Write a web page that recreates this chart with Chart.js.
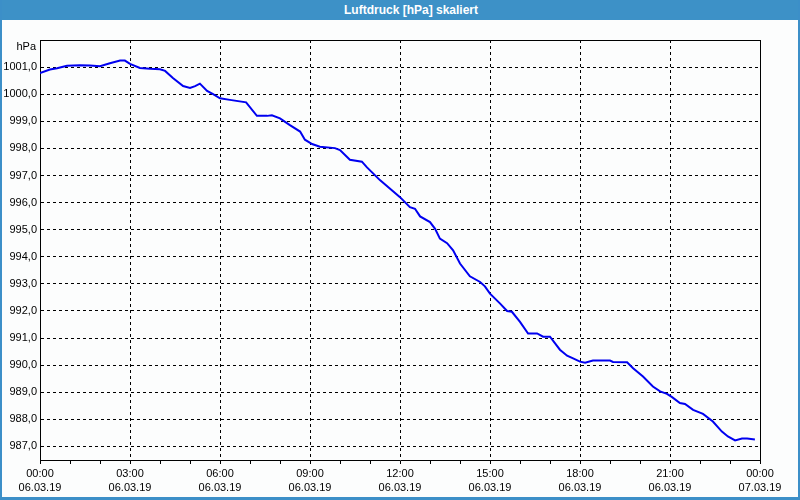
<!DOCTYPE html>
<html>
<head>
<meta charset="utf-8">
<script src="https://cdn.jsdelivr.net/npm/chart.js@4/dist/chart.umd.min.js"></script>
<style>
	html, body { margin: 0; padding: 0; background: #fcfdfd; }
	#frame { position: absolute; left: 0; top: 0; width: 796px; height: 497px; border-left: 2px solid #3c8fc8; border-right: 2px solid #3c8fc8; border-bottom: 3px solid #3c8fc8; pointer-events: none; }
	#titleBar { position: absolute; left: 0; top: 0; width: 800px; height: 20px; background: #3d91c7; color: #ffffff; font: bold 12px "Liberation Sans", sans-serif; line-height: 20px; text-align: center; }
	#titleBar span { margin-left: 22px; }
	#chartBox { position: absolute; left: 0; top: 0; width: 800px; height: 500px; }
</style>
</head>
<body>
<div id="chartBox"><canvas id="pressureChart"></canvas></div>
<div id="titleBar"><span>Luftdruck [hPa] skaliert</span></div>
<div id="frame"></div>
<script>
/* Time axis (hours since 06.03.19 00:00) */
var hourArray = [0, 0.33, 0.57, 0.9, 1.33, 1.67, 2.0, 2.33, 2.67, 2.83, 3.0, 3.33, 3.67, 4.0, 4.17, 4.43, 4.77, 5.0, 5.17, 5.33,
	5.57, 5.77, 6.0, 6.33, 6.87, 7.23, 7.57, 7.73, 8.0, 8.33, 8.67, 8.83, 9.07, 9.33, 9.83, 10.0, 10.33, 10.73, 10.9, 11.33,
	12.0, 12.33, 12.5, 12.67, 13.0, 13.17, 13.33, 13.57, 13.77, 14.0, 14.33, 14.67, 14.83, 15.0, 15.33, 15.57, 15.73, 16.0, 16.27, 16.57,
	16.77, 17.0, 17.33, 17.57, 17.77, 18.0, 18.17, 18.43, 19.0, 19.1, 19.57, 19.77, 20.1, 20.43, 20.67, 20.9, 21.07, 21.33, 21.5, 21.77,
	22.1, 22.43, 22.73, 22.93, 23.17, 23.4, 23.57, 23.83];

/* Pressure values in hPa */
var pressureArray = [1000.78, 1000.91, 1000.96, 1001.05, 1001.07, 1001.06, 1001.03, 1001.14, 1001.24, 1001.24, 1001.12, 1000.97, 1000.94, 1000.92, 1000.86, 1000.6, 1000.3, 1000.23, 1000.3, 1000.39,
	1000.12, 1000.0, 999.85, 999.79, 999.7, 999.2, 999.2, 999.22, 999.11, 998.86, 998.62, 998.32, 998.16, 998.06, 998.01, 997.94, 997.58, 997.51, 997.3, 996.83,
	996.2, 995.83, 995.77, 995.49, 995.28, 995.03, 994.67, 994.5, 994.24, 993.75, 993.28, 993.07, 992.91, 992.64, 992.28, 992.0, 991.97, 991.6, 991.17, 991.17,
	991.05, 991.05, 990.57, 990.35, 990.25, 990.13, 990.09, 990.17, 990.17, 990.12, 990.11, 989.89, 989.58, 989.21, 989.03, 988.94, 988.82, 988.6, 988.57, 988.35,
	988.2, 987.92, 987.55, 987.37, 987.22, 987.29, 987.29, 987.26];

/* Tick labels */
var xTickHours = [0, 3, 6, 9, 12, 15, 18, 21, 24];
var xTimeLabels = ["00:00", "03:00", "06:00", "09:00", "12:00", "15:00", "18:00", "21:00", "00:00"];
var xDateLabels = ["06.03.19", "06.03.19", "06.03.19", "06.03.19", "06.03.19", "06.03.19", "06.03.19", "06.03.19", "07.03.19"];
var yTickValues = [987, 988, 989, 990, 991, 992, 993, 994, 995, 996, 997, 998, 999, 1000, 1001];
var yUnitLabel = "hPa";

window.addEventListener("DOMContentLoaded", function () {
	var points = [];
	for (var i = 0; i < hourArray.length; i++) {
		points.push({ x: hourArray[i], y: pressureArray[i] });
	}

	var frameAndUnit = {
		id: "frameAndUnit",
		afterDraw: function (chart) {
			var ctx = chart.ctx;
			var area = chart.chartArea;
			ctx.save();
			ctx.strokeStyle = "#000000";
			ctx.lineWidth = 1;
			ctx.beginPath();
			ctx.moveTo(area.left, area.top + 0.5);
			ctx.lineTo(area.right + 0.5, area.top + 0.5);
			ctx.lineTo(area.right + 0.5, area.bottom);
			ctx.stroke();
			ctx.fillStyle = "#000000";
			ctx.font = "11px 'Liberation Sans'";
			ctx.textAlign = "right";
			ctx.textBaseline = "middle";
			ctx.fillText(yUnitLabel, area.left - 4, area.top + 7);
			ctx.restore();
		}
	};

	Chart.defaults.font.family = "'Liberation Sans', sans-serif";
	Chart.defaults.font.size = 11;
	Chart.defaults.color = "#000000";

	var ctx = document.getElementById("pressureChart").getContext("2d");
	var myChart = new Chart(ctx, {
		type: "line",
		data: {
			datasets: [
				{
					data: points,
					borderColor: "#0000f0",
					borderWidth: 2,
					fill: false,
					tension: 0,
					pointRadius: 0
				}
			]
		},
		options: {
			animation: false,
			responsive: false,
			devicePixelRatio: 1,
			layout: { padding: { top: 40, right: 40, left: 0, bottom: 0 } },
			plugins: {
				legend: { display: false },
				tooltip: { enabled: false }
			},
			scales: {
				x: {
					type: "linear",
					min: 0,
					max: 24,
					afterBuildTicks: function (axis) {
						var t = [];
						for (var h = 0; h <= 24; h++) {
							t.push({ value: h });
						}
						axis.ticks = t;
					},
					afterFit: function (axis) {
						axis.height = 40;
					},
					ticks: {
						autoSkip: false,
						maxRotation: 0,
						padding: 3,
						font: { lineHeight: 1.3 },
						callback: function (value) {
							var idx = xTickHours.indexOf(value);
							if (idx < 0) {
								return "";
							}
							return [xTimeLabels[idx], xDateLabels[idx]];
						}
					},
					grid: {
						color: function (c) {
							return (c.tick && c.tick.value % 3 == 0) ? "#000000" : "rgba(0,0,0,0)";
						},
						lineWidth: 1,
						drawTicks: true,
						tickLength: 4,
						tickColor: "#000000"
					},
					border: { display: true, color: "#000000", width: 1, dash: [3, 3] }
				},
				y: {
					type: "linear",
					min: 986.5,
					max: 1002,
					afterBuildTicks: function (axis) {
						axis.ticks = yTickValues.map(function (v) { return { value: v }; });
					},
					afterFit: function (axis) {
						axis.width = 40;
					},
					ticks: {
						autoSkip: false,
						padding: 3,
						callback: function (value) {
							return value.toFixed(1).replace(".", ",");
						}
					},
					grid: {
						color: "#000000",
						lineWidth: 1,
						drawTicks: false
					},
					border: { display: true, color: "#000000", width: 1, dash: [3, 3] }
				}
			}
		},
		plugins: [frameAndUnit]
	});
}, false);
</script>
<script>
document.getElementById("pressureChart").width = 800;
document.getElementById("pressureChart").height = 500;
</script>
</body>
</html>
